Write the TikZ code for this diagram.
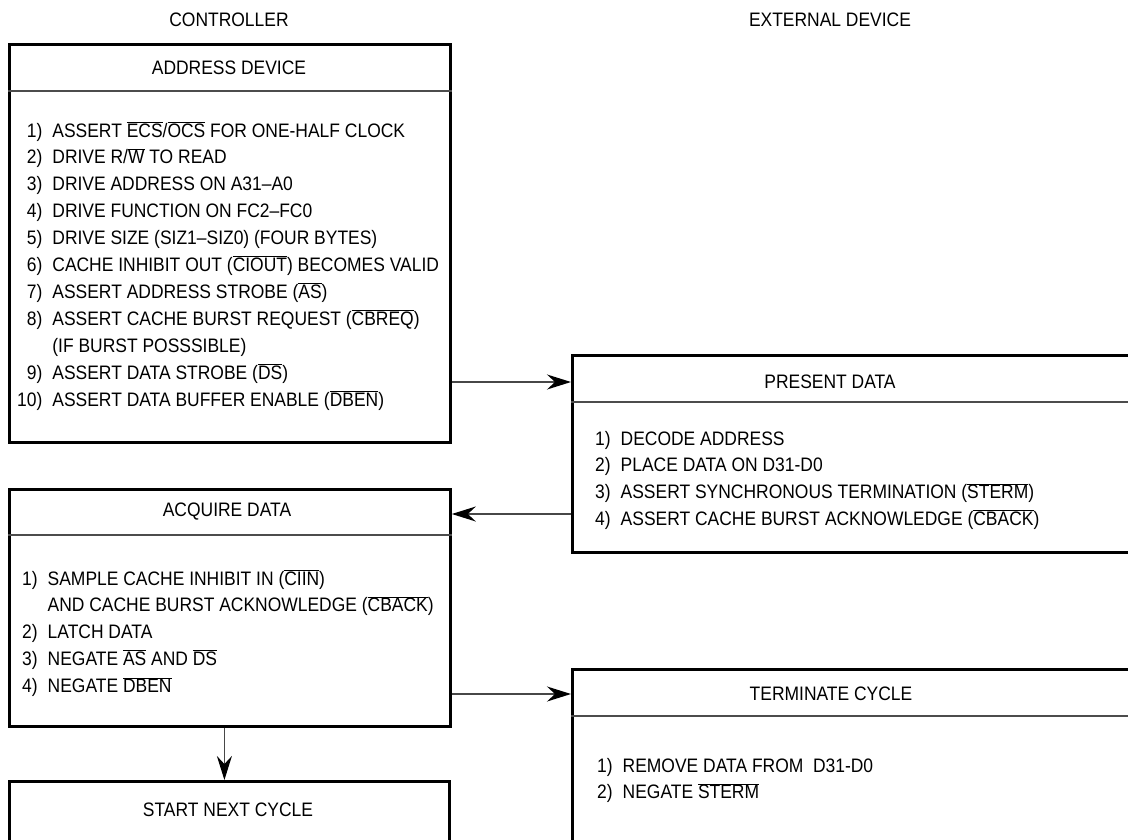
\documentclass[tikz,border=0pt]{standalone}
\usepackage{fontspec}
\setmainfont{Liberation Sans}[FakeStretch=0.895]
\usetikzlibrary{arrows.meta}
\newcommand\ovl[1]{\ensuremath{\overline{\mbox{#1}}}}
\begin{document}
\begin{tikzpicture}[x=1pt,y=-1pt,
  box/.style={draw, line width=2.8pt, anchor=north west, inner sep=0pt},
  divider/.style={draw=black!70, line width=1.6pt},
  conn/.style={draw=black!72, line width=1.5pt,
    -{Stealth[length=24pt,width=15pt,inset=8pt,color=black]}},
  head/.style={font=\fontsize{19.5}{26.8}\selectfont, inner sep=0pt},
  list/.style={font=\fontsize{19.5}{26.9}\selectfont, inner sep=0pt, anchor=base west}]
\useasboundingbox (0,0) rectangle (1128,839);
\clip (0,0) rectangle (1128,839);
\fill[white] (0,0) rectangle (1128,839);

% column titles
\node[head] (ctrl) at (229,20) {CONTROLLER};
\node[head] (ext) at (830,20) {EXTERNAL DEVICE};

% boxes
\node[box, minimum width=441pt, minimum height=398pt] (addr) at (8,43) {};
\node[box, minimum width=441pt, minimum height=237pt] (acq) at (8,488) {};
\node[box, minimum width=440pt, minimum height=120pt] (start) at (8,780) {};
\node[box, minimum width=600pt, minimum height=197pt] (pres) at (571,354) {};
\node[box, minimum width=600pt, minimum height=250pt] (term) at (571,668) {};

% header dividers
\draw[divider] ([yshift=-48pt]addr.north west) -- ([yshift=-48pt]addr.north east);
\draw[divider] ([yshift=-47pt]acq.north west) -- ([yshift=-47pt]acq.north east);
\draw[divider] ([yshift=-48pt]pres.north west) -- ([yshift=-48pt]pres.north east);
\draw[divider] ([yshift=-48pt]term.north west) -- ([yshift=-48pt]term.north east);

% headers
\node[head] (addrT) at (229,68) {ADDRESS DEVICE};
\node[head] (acqT) at (227,512) {ACQUIRE DATA};
\node[head] (startT) at (228,810) {START NEXT CYCLE};
\node[head] (presT) at (830,382) {PRESENT DATA};
\node[head] (termT) at (831,694) {TERMINATE CYCLE};

% lists
\node[list] (addrL) at (17,137) {\begin{tabular}[t]{@{}r@{\hspace{10pt}}l@{}}
1) & ASSERT \ovl{ECS}/\ovl{OCS} FOR ONE-HALF CLOCK\\
2) & DRIVE R/\ovl{W} TO READ\\
3) & DRIVE ADDRESS ON A31–A0\\
4) & DRIVE FUNCTION ON FC2–FC0\\
5) & DRIVE SIZE (SIZ1–SIZ0) (FOUR BYTES)\\
6) & CACHE INHIBIT OUT (\ovl{CIOUT}) BECOMES VALID\\
7) & ASSERT ADDRESS STROBE (\ovl{AS})\\
8) & ASSERT CACHE BURST REQUEST (\ovl{CBREQ})\\
   & (IF BURST POSSSIBLE)\\
9) & ASSERT DATA STROBE (\ovl{DS})\\
10) & ASSERT DATA BUFFER ENABLE (\ovl{DBEN})
\end{tabular}};

\node[list] (acqL) at (22,585) {\begin{tabular}[t]{@{}r@{\hspace{10pt}}l@{}}
1) & SAMPLE CACHE INHIBIT IN (\ovl{CIIN})\\
   & AND CACHE BURST ACKNOWLEDGE (\ovl{CBACK})\\
2) & LATCH DATA\\
3) & NEGATE \ovl{AS} AND \ovl{DS}\\
4) & NEGATE \ovl{DBEN}
\end{tabular}};

\node[list] (presL) at (595,445) {\begin{tabular}[t]{@{}r@{\hspace{10pt}}l@{}}
1) & DECODE ADDRESS\\
2) & PLACE DATA ON D31-D0\\
3) & ASSERT SYNCHRONOUS TERMINATION (\ovl{STERM})\\
4) & ASSERT CACHE BURST ACKNOWLEDGE (\ovl{CBACK})
\end{tabular}};

\node[list] (termL) at (597,772) {\begin{tabular}[t]{@{}r@{\hspace{10pt}}l@{}}
1) & REMOVE DATA FROM\ \ D31-D0\\
2) & NEGATE \ovl{STERM}
\end{tabular}};

% connectors
\draw[conn] ([yshift=-339pt]addr.north east) -- ([yshift=-28pt]pres.north west);
\draw[conn] ([yshift=-160pt]pres.north west) -- ([yshift=-26pt]acq.north east);
\draw[conn] ([yshift=-206pt]acq.north east) -- ([yshift=-26pt]term.north west);
\draw[conn, line width=1.2pt] ([xshift=-5.5pt]acq.south) -- ([xshift=-5pt]start.north);
\end{tikzpicture}
\end{document}
